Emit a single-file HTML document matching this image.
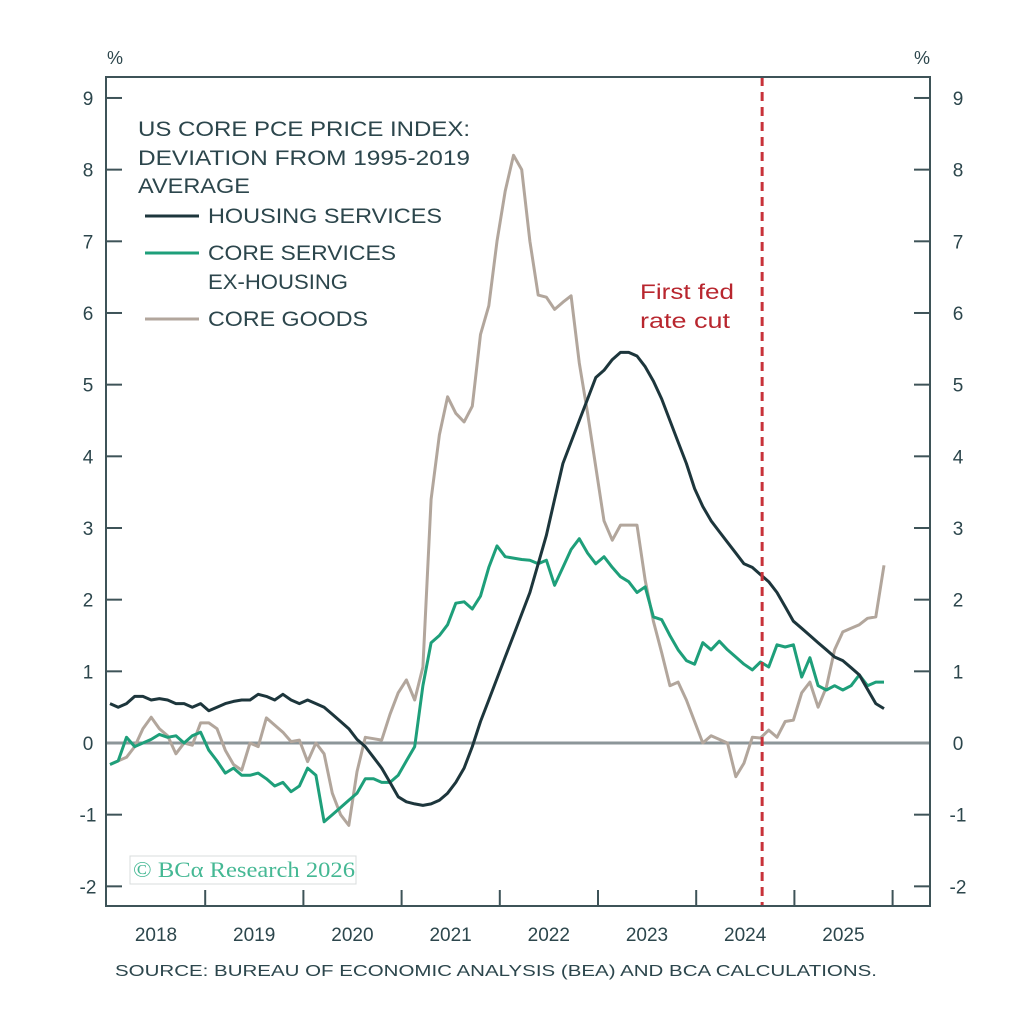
<!DOCTYPE html>
<html><head><meta charset="utf-8"><style>
html,body{margin:0;padding:0;background:#fff;}
svg{display:block;font-family:"Liberation Sans",sans-serif;}
</style></head><body>
<svg id="chart" width="1032" height="1033" viewBox="0 0 1032 1033" xmlns="http://www.w3.org/2000/svg">
<g id="grid"></g>
<g id="series"></g>
<g id="labels"></g>
</svg>
<script>
const yTicks=[-2,-1,0,1,2,3,4,5,6,7,8,9];
const years=["2018","2019","2020","2021","2022","2023","2024","2025"];
const housing=[0.55,0.5,0.55,0.65,0.65,0.6,0.62,0.6,0.55,0.55,0.5,0.55,
0.45,0.5,0.55,0.58,0.6,0.6,0.68,0.65,0.6,0.68,0.6,0.55,
0.6,0.55,0.5,0.4,0.3,0.2,0.05,-0.05,-0.2,-0.35,-0.55,-0.75,
-0.82,-0.85,-0.87,-0.85,-0.8,-0.7,-0.55,-0.35,-0.05,0.3,0.6,0.9,
1.2,1.5,1.8,2.1,2.5,2.9,3.4,3.9,4.2,4.5,4.8,5.1,
5.2,5.35,5.45,5.45,5.4,5.25,5.05,4.8,4.5,4.2,3.9,3.55,
3.3,3.1,2.95,2.8,2.65,2.5,2.45,2.35,2.25,2.1,1.9,1.7,
1.6,1.5,1.4,1.3,1.2,1.15,1.05,0.95,0.75,0.55,0.48];
const servicesExHousing=[-0.3,-0.25,0.08,-0.05,0.0,0.05,0.12,0.08,0.1,0.0,0.1,0.15,
-0.1,-0.25,-0.42,-0.35,-0.45,-0.45,-0.42,-0.5,-0.6,-0.55,-0.68,-0.6,
-0.35,-0.45,-1.1,-1.0,-0.9,-0.8,-0.7,-0.5,-0.5,-0.55,-0.55,-0.45,
-0.25,-0.05,0.8,1.4,1.5,1.65,1.95,1.97,1.87,2.05,2.45,2.75,
2.6,2.58,2.56,2.55,2.5,2.55,2.2,2.45,2.7,2.85,2.65,2.5,
2.6,2.45,2.32,2.25,2.1,2.18,1.76,1.72,1.5,1.3,1.15,1.1,
1.4,1.3,1.42,1.3,1.2,1.1,1.02,1.13,1.06,1.37,1.34,1.37,
0.92,1.19,0.8,0.74,0.8,0.74,0.8,0.95,0.8,0.85,0.85];
const coreGoods=[-0.3,-0.25,-0.2,-0.05,0.2,0.36,0.2,0.1,-0.15,0.0,-0.03,0.28,
0.28,0.2,-0.1,-0.3,-0.38,0.0,-0.05,0.35,0.25,0.15,0.02,0.04,
-0.26,0.0,-0.15,-0.7,-1.0,-1.15,-0.4,0.08,0.06,0.04,0.4,0.7,
0.88,0.6,1.06,3.4,4.3,4.83,4.6,4.48,4.7,5.7,6.1,7.0,
7.7,8.2,8.0,7.0,6.25,6.22,6.05,6.15,6.24,5.3,4.6,3.85,
3.1,2.83,3.04,3.04,3.04,2.27,1.7,1.26,0.8,0.85,0.6,0.3,
0.0,0.1,0.05,0.0,-0.47,-0.28,0.08,0.07,0.18,0.08,0.3,0.32,
0.7,0.85,0.5,0.78,1.3,1.55,1.6,1.65,1.74,1.76,2.48];
const rateCutMonth=79.2;

const L=106,R=930,T=77,B=906;
const y=v=>743-v*71.67;
const x=m=>110+m*8.234;
const yearX=k=>107+k*98.2;
const NS="http://www.w3.org/2000/svg";
function mk(tag,attrs,parent,txt){const e=document.createElementNS(NS,tag);for(const k in attrs)e.setAttribute(k,attrs[k]);if(txt!==undefined)e.textContent=txt;parent.appendChild(e);return e;}
const G=document.getElementById('grid'),S=document.getElementById('series'),Lb=document.getElementById('labels');
const ink="#2c464c";

yTicks.forEach(v=>{
  const t1=mk('line',{x1:L,x2:L+16,y1:y(v),y2:y(v),stroke:"#3e5358","stroke-width":2},G);
  
  
  const t2=mk('line',{x1:R-16,x2:R,y1:y(v),y2:y(v),stroke:"#3e5358","stroke-width":2},G);
  
  
  const a=mk('text',{x:88,y:y(v)+7,"text-anchor":"middle","font-size":19,fill:ink},Lb,String(v));
  
  
  const b=mk('text',{x:958,y:y(v)+7,"text-anchor":"middle","font-size":19,fill:ink},Lb,String(v));
  
  
});
for(let k=1;k<=years.length;k++){
  const t=mk('line',{x1:yearX(k),x2:yearX(k),y1:B-16,y2:B,stroke:"#3e5358","stroke-width":2},G);
  
  
}
years.forEach((s,k)=>{
  const t=mk('text',{x:yearX(k)+49,y:941,"text-anchor":"middle","font-size":19,fill:ink},Lb,s);
  
  
});
const zl=mk('line',{x1:L,x2:R,y1:y(0),y2:y(0),stroke:"#8c9699","stroke-width":3},G);



function series(arr,color,name){
  const p=mk('polyline',{points:arr.map((v,i)=>x(i).toFixed(1)+","+y(v).toFixed(1)).join(" "),fill:"none",stroke:color,"stroke-width":3,"stroke-linejoin":"round"},S);
  
  
}
series(coreGoods,"#b2a69c","core-goods-line");
series(servicesExHousing,"#1e9f7a","core-services-ex-housing-line");
series(housing,"#1d363c","housing-services-line");

const dl=mk('line',{x1:x(rateCutMonth),x2:x(rateCutMonth),y1:T,y2:B,stroke:"#c8323a","stroke-width":3,"stroke-dasharray":"9,6"},S);



const fr=mk('rect',{x:L,y:T,width:R-L,height:B-T,fill:"none",stroke:"#3e5358","stroke-width":2},S);



function txt(s,xx,yy,size,color,name,anchor,len){
  const a={x:xx,y:yy,"font-size":size,fill:color,"text-anchor":anchor||"start"};
  if(len){a.textLength=len;a.lengthAdjust="spacingAndGlyphs";}
  const t=mk('text',a,Lb,s);
  
  
  return t;
}
txt("%",115,64,18,ink,"left-unit-label","middle");
txt("%",922,64,18,ink,"right-unit-label","middle");
txt("US CORE PCE PRICE INDEX:",138,136,21,ink,"chart-title-line1",null,332);
txt("DEVIATION FROM 1995-2019",138,165,21,ink,"chart-title-line2",null,332);
txt("AVERAGE",138,193,21,ink,"chart-title-line3",null,112);
const leg=[["HOUSING SERVICES","#1d363c",223,234],["CORE SERVICES","#1e9f7a",260,188],["CORE GOODS","#b2a69c",326,160]];
leg.forEach(([s,c,yy,w])=>{
  const l=mk('line',{x1:145,x2:199,y1:yy-7,y2:yy-7,stroke:c,"stroke-width":3},Lb);
  
  
  txt(s,208,yy,21,ink,"legend-entry",null,w);
});
txt("EX-HOUSING",208,289,21,ink,"legend-entry-continued",null,140);
txt("First fed",640,299,21,"#b8262e","rate-cut-annotation",null,94);
txt("rate cut",640,328,21,"#b8262e","rate-cut-annotation-line2",null,90);
const box=mk('rect',{x:130,y:856,width:226,height:28,fill:"none",stroke:"#d8dcdc","stroke-width":1},Lb);


const wm=txt("© BCα Research 2026",133,877,22,"#45b894","watermark",null,222);
wm.setAttribute('font-family','"Liberation Serif",serif');
txt("SOURCE: BUREAU OF ECONOMIC ANALYSIS (BEA) AND BCA CALCULATIONS.",115,976,16,ink,"source-note","start",762);
</script>
</body></html>
